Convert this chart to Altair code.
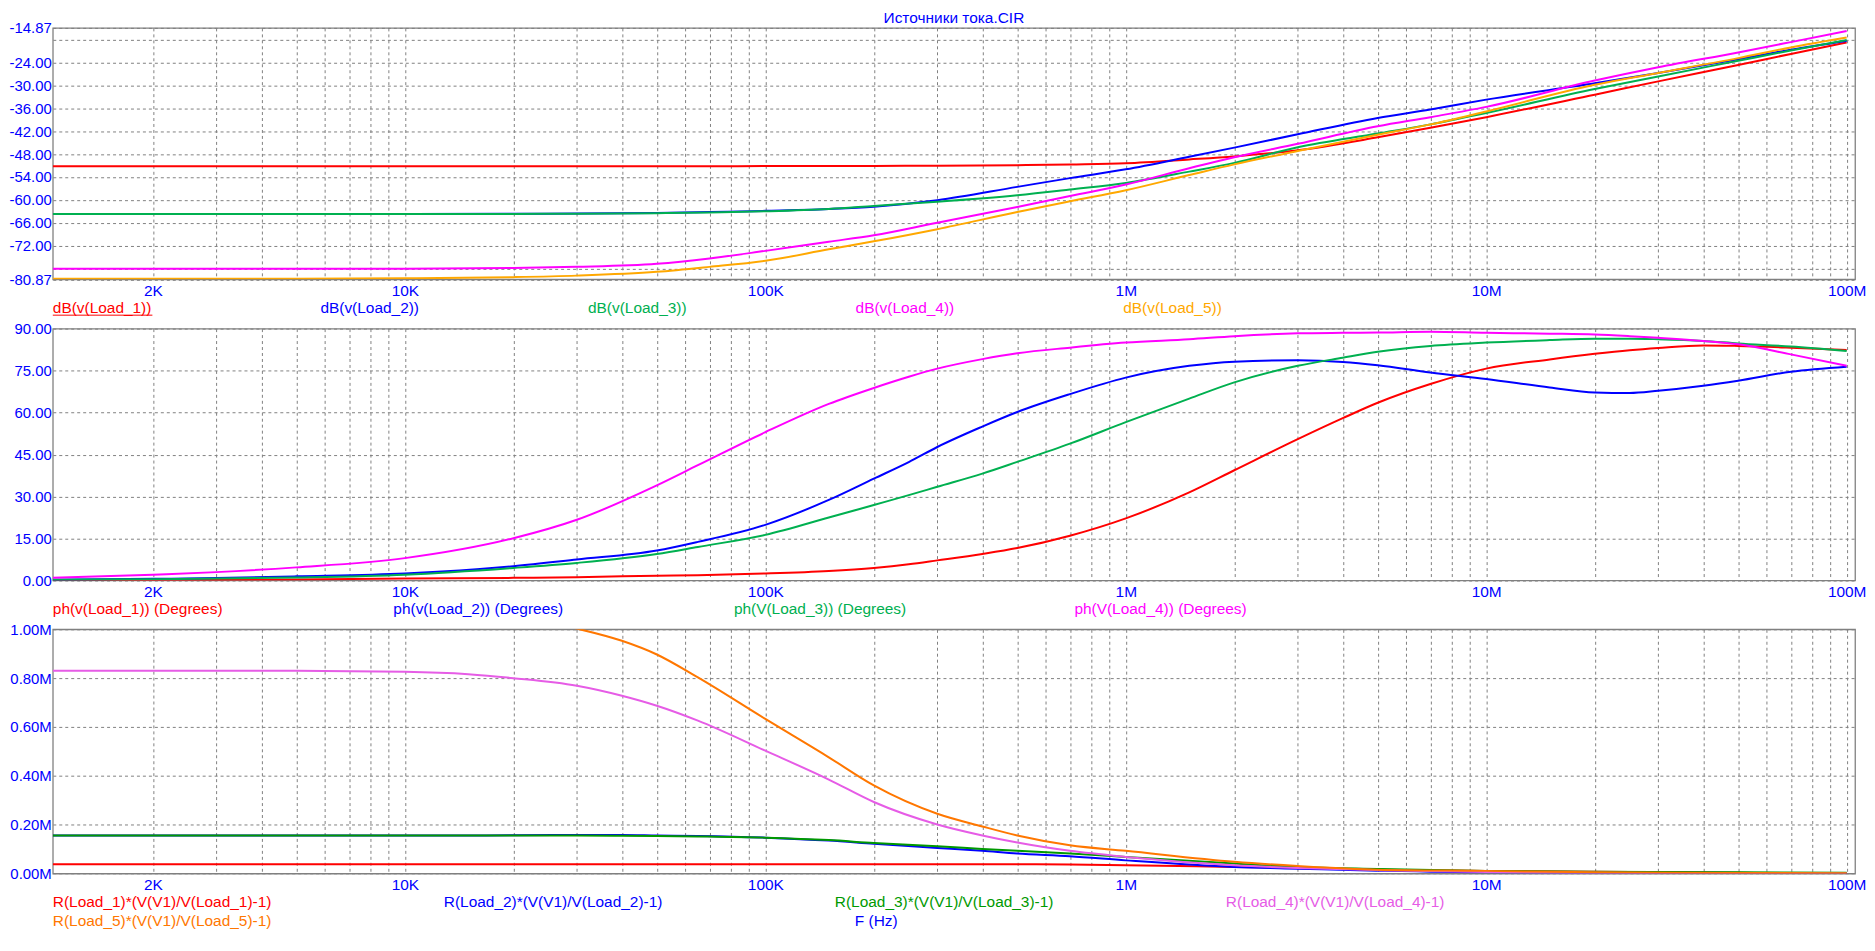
import altair as alt
import pandas as pd

FONT = "Liberation Sans, Arial, sans-serif"
BLUE_TXT = "#0000FF"
FRAME_GRAY = "#808080"

TITLE = "Источники тока.CIR"
X_NAME = "F (Hz)"

# ---------------- x axis (log frequency) ----------------
X_DOMAIN = [1055, 105500000]
X_LABEL_VALUES = [2000, 10000, 100000, 1000000, 10000000, 100000000]
X_LABEL_TEXTS = ["2K", "10K", "100K", "1M", "10M", "100M"]
X_GRID_MANTISSA = [1, 2, 3, 4, 5, 6, 7, 8, 9]
X_GRID_DECADES = [1000, 10000, 100000, 1000000, 10000000, 100000000]

# ---------------- panel 1 : dB ----------------
F1 = [1055, 2000, 5000, 10000, 20000, 30000, 50000, 70000, 100000, 150000, 200000,
      300000, 500000, 700000, 1000000, 1500000, 2000000, 3000000, 5000000, 7000000,
      10000000, 20000000, 30000000, 50000000, 70000000, 100000000]
DB_LOAD1 = [-51.2, -51.2, -51.2, -51.2, -51.2, -51.2, -51.2, -51.2, -51.15, -51.15, -51.1,
            -51.05, -50.9, -50.7, -50.4, -49.4, -48.6, -47.0, -43.6, -41.1,
            -38.3, -32.4, -28.9, -24.6, -21.7, -18.7]
DB_LOAD2 = [-63.7, -63.7, -63.7, -63.7, -63.65, -63.6, -63.45, -63.2, -62.9, -62.4, -61.8,
            -60.1, -56.6, -54.3, -52.0, -48.7, -46.3, -42.8, -38.5, -36.3,
            -33.7, -29.4, -26.7, -23.1, -20.6, -18.3]
DB_LOAD3 = [-63.75, -63.75, -63.75, -63.75, -63.7, -63.65, -63.5, -63.3, -63.0, -62.4, -61.6,
            -60.5, -58.8, -57.3, -55.6, -52.6, -50.3, -46.2, -42.6, -40.2,
            -37.2, -30.9, -27.6, -23.5, -20.8, -18.05]
DB_LOAD4 = [-78.1, -78.1, -78.1, -78.1, -77.9, -77.6, -76.8, -75.4, -73.4, -71.0, -69.3,
            -66.0, -61.9, -59.0, -56.0, -51.7, -48.8, -45.3, -40.7, -38.3,
            -35.6, -28.7, -25.2, -21.3, -18.6, -15.7]
DB_LOAD5 = [-80.7, -80.7, -80.7, -80.6, -80.3, -79.9, -78.9, -77.6, -76.0, -73.0, -70.9,
            -67.7, -63.2, -60.4, -57.5, -53.5, -50.7, -47.2, -42.9, -40.2,
            -36.8, -29.8, -26.7, -22.8, -20.0, -17.4]
P1_NAMES = ["dB(v(Load_1))", "dB(v(Load_2))", "dB(v(Load_3))", "dB(v(Load_4))", "dB(v(Load_5))"]
P1_COLORS = ["#FF0000", "#0000FF", "#00B050", "#FF00FF", "#FFA800"]
DB_DOMAIN = [-80.87, -14.87]
DB_TICKS = [-80.87, -78, -72, -66, -60, -54, -48, -42, -36, -30, -24, -18, -14.87]
DB_UNLABELED = [-78, -18]

# ---------------- panel 2 : phase ----------------
F2 = [1055, 2000, 3000, 5000, 10000, 20000, 30000, 50000, 65000, 100000, 150000, 200000,
      250000, 300000, 400000, 500000, 700000, 1000000, 1500000, 2000000, 3000000, 4000000,
      5000000, 7000000, 10000000, 15000000, 20000000, 25000000, 30000000, 40000000,
      50000000, 70000000, 100000000]
PH_LOAD1 = [0.05, 0.15, 0.2, 0.35, 0.7, 0.95, 1.2, 1.7, 1.9, 2.5, 3.4, 4.5,
            5.8, 7.2, 9.5, 11.6, 16.0, 22.2, 31.5, 39.4, 50.5, 58.0,
            63.5, 70.2, 75.7, 79.0, 81.0, 82.3, 83.1, 84.0,
            83.8, 83.2, 82.4]
PH_LOAD2 = [0.3, 0.6, 0.9, 1.5, 2.5, 5.1, 7.5, 10.7, 13.8, 19.9, 28.8, 36.4,
            42.3, 47.7, 55.0, 60.2, 66.6, 72.5, 76.7, 78.2, 78.7, 78.1,
            76.9, 74.3, 72.0, 69.0, 67.2, 67.0, 67.8, 69.6,
            71.4, 74.6, 76.4]
PH_LOAD3 = [0.3, 0.5, 0.7, 1.1, 2.1, 4.5, 6.3, 9.5, 12.0, 16.3, 22.5, 27.0,
            30.5, 33.5, 38.2, 42.4, 48.9, 56.6, 65.0, 70.8, 76.7, 79.6,
            81.7, 83.8, 85.0, 85.9, 86.4, 86.4, 86.2, 85.6,
            84.7, 83.6, 82.0]
PH_LOAD4 = [0.95, 2.1, 3.0, 4.7, 8.0, 15.1, 21.7, 34.0, 41.2, 53.0, 63.1, 68.8,
            72.8, 75.7, 79.1, 81.2, 83.2, 85.0, 86.2, 87.3, 88.3, 88.5,
            88.6, 88.9, 88.5, 88.2, 87.9, 87.3, 86.7, 85.6,
            84.4, 80.8, 76.7]
P2_NAMES = ["ph(v(Load_1)) (Degrees)", "ph(v(Load_2)) (Degrees)",
            "ph(V(Load_3)) (Degrees)", "ph(V(Load_4)) (Degrees)"]
P2_COLORS = ["#FF0000", "#0000FF", "#00B050", "#FF00FF"]
PH_DOMAIN = [0, 90]
PH_TICKS = [0, 15, 30, 45, 60, 75, 90]

# ---------------- panel 3 : R*(V1/V-1), in M ----------------
F3 = [1055, 2000, 5000, 10000, 15000, 20000, 30000, 40000, 50000, 65000, 100000, 150000,
      200000, 300000, 400000, 500000, 700000, 1000000, 2000000, 3000000, 5000000,
      10000000, 20000000, 50000000, 100000000]
R_LOAD1 = [0.038, 0.038, 0.038, 0.038, 0.038, 0.038, 0.038, 0.038, 0.038, 0.038, 0.038, 0.038,
           0.038, 0.038, 0.038, 0.038, 0.037, 0.034, 0.027, 0.023, 0.016,
           0.011, 0.007, 0.003, 0.001]
R_LOAD2 = [0.156, 0.156, 0.156, 0.156, 0.156, 0.157, 0.158, 0.158, 0.156, 0.154, 0.147, 0.135,
           0.122, 0.105, 0.093, 0.082, 0.071, 0.054, 0.027, 0.020, 0.012,
           0.005, 0.004, 0.002, 0.001]
R_LOAD3 = [0.156, 0.156, 0.156, 0.156, 0.156, 0.156, 0.156, 0.155, 0.154, 0.152, 0.147, 0.137,
           0.125, 0.112, 0.101, 0.093, 0.082, 0.068, 0.041, 0.027, 0.019,
           0.011, 0.007, 0.005, 0.003]
R_LOAD4 = [0.830, 0.830, 0.830, 0.826, 0.816, 0.800, 0.769, 0.728, 0.687, 0.626, 0.503, 0.385,
           0.293, 0.201, 0.156, 0.127, 0.093, 0.068, 0.034, 0.023, 0.014,
           0.006, 0.003, 0.001, 0.0005]
R_LOAD5 = [1.12, 1.11, 1.10, 1.09, 1.075, 1.055, 1.003, 0.953, 0.897, 0.803, 0.633, 0.476,
           0.361, 0.245, 0.193, 0.156, 0.116, 0.093, 0.048, 0.031, 0.016,
           0.011, 0.005, 0.0025, 0.001]
P3_NAMES = ["R(Load_1)*(V(V1)/V(Load_1)-1)", "R(Load_2)*(V(V1)/V(Load_2)-1)",
            "R(Load_3)*(V(V1)/V(Load_3)-1)", "R(Load_4)*(V(V1)/V(Load_4)-1)",
            "R(Load_5)*(V(V1)/V(Load_5)-1)"]
P3_COLORS = ["#FF0000", "#0000FF", "#009900", "#E65CE6", "#FF7700"]
R_DOMAIN = [0, 1.0]
R_TICKS = [0, 0.2, 0.4, 0.6, 0.8, 1.0]

# ---------------- layout ----------------
W = 1810
H1, H2, H3 = 252.5, 253, 245.3
GAP = 49
FS = 15.5
LEG_DY = 34
ROW_DY = 19


def long_df(freqs, names, series):
    rows = []
    for name, vals in zip(names, series):
        for f, v in zip(freqs, vals):
            rows.append({"f": f, "v": v, "s": name})
    return pd.DataFrame(rows)


x_grid = [m * d for d in X_GRID_DECADES for m in X_GRID_MANTISSA
          if X_DOMAIN[0] <= m * d <= X_DOMAIN[1]]
x_label_expr = ""
for val, txt in zip(X_LABEL_VALUES, X_LABEL_TEXTS):
    x_label_expr += f"datum.value == {val} ? '{txt}' : "
x_label_expr += "''"

common_axis = dict(domain=False, ticks=False, grid=True, gridColor=FRAME_GRAY,
                   gridDash=[3, 3], gridWidth=1, gridOpacity=1,
                   labelColor=BLUE_TXT, labelFont=FONT, labelOverlap=False,
                   labelFlush=False, labelBound=False, title=None)

x_enc = alt.X("f:Q", title=None,
              scale=alt.Scale(type="log", domain=X_DOMAIN, nice=False),
              axis=alt.Axis(values=x_grid, labelExpr=x_label_expr, labelFontSize=FS,
                            labelPadding=4, **common_axis))


def y_enc(domain, ticks, expr):
    return alt.Y("v:Q", title=None,
                 scale=alt.Scale(domain=domain, nice=False, zero=False),
                 axis=alt.Axis(values=ticks, labelExpr=expr, labelFontSize=15,
                               labelPadding=1.5, labelAlign="right",
                               labelBaseline="middle", **common_axis))


def text_layer(label, color, x, y, align="left"):
    return alt.Chart(alt.Data(values=[{"t": label}])).mark_text(
        align=align, baseline="alphabetic", font=FONT, fontSize=FS, color=color
    ).encode(x=alt.value(x), y=alt.value(y), text="t:N")


def panel(df, names, colors, height, yenc, legend, extra=None):
    layers = []
    for n, c in zip(names, colors):
        layers.append(
            alt.Chart(df).transform_filter(alt.datum.s == n)
            .mark_line(color=c, strokeWidth=2, interpolate="monotone", clip=True)
            .encode(x=x_enc, y=yenc)
        )
    for (label, color, x, row) in legend:
        layers.append(text_layer(label, color, x, height + LEG_DY + row * ROW_DY))
    if extra:
        layers.extend(extra)
    return alt.layer(*layers).properties(width=W, height=height)


db_expr = ("indexof(" + str(DB_UNLABELED) + ", datum.value) >= 0 ? '' : "
           "(datum.value < 0 ? '-' : '') + format(abs(datum.value), '.2f')")
ph_expr = "format(datum.value, '.2f')"
r_expr = "format(datum.value, '.2f') + 'M'"

df1 = long_df(F1, P1_NAMES, [DB_LOAD1, DB_LOAD2, DB_LOAD3, DB_LOAD4, DB_LOAD5])
df2 = long_df(F2, P2_NAMES, [PH_LOAD1, PH_LOAD2, PH_LOAD3, PH_LOAD4])
df3 = long_df(F3, P3_NAMES, [R_LOAD1, R_LOAD2, R_LOAD3, R_LOAD4, R_LOAD5])

STEP1, STEP2, STEP3 = 268.75, 342, 392.7
leg1 = [(n, c, i * STEP1, 0) for i, (n, c) in enumerate(zip(P1_NAMES, P1_COLORS))]
leg2 = [(n, c, i * STEP2, 0) for i, (n, c) in enumerate(zip(P2_NAMES, P2_COLORS))]
leg3 = [(n, c, (i % 4) * STEP3, i // 4) for i, (n, c) in enumerate(zip(P3_NAMES, P3_COLORS))]

underline = alt.Chart(alt.Data(values=[{}])).mark_rule(color=P1_COLORS[0], strokeWidth=1).encode(
    x=alt.value(0), x2=alt.value(100), y=alt.value(H1 + LEG_DY + 2), y2=alt.value(H1 + LEG_DY + 2))

title_txt = text_layer(TITLE, BLUE_TXT, W / 2, -4.5, align="center")

fhz = text_layer(X_NAME, BLUE_TXT, 827, H3 + LEG_DY + ROW_DY, align="center")

p1 = panel(df1, P1_NAMES, P1_COLORS, H1, y_enc(DB_DOMAIN, DB_TICKS, db_expr), leg1,
           [underline, title_txt])
p2 = panel(df2, P2_NAMES, P2_COLORS, H2, y_enc(PH_DOMAIN, PH_TICKS, ph_expr), leg2)
p3 = panel(df3, P3_NAMES, P3_COLORS, H3, y_enc(R_DOMAIN, R_TICKS, r_expr), leg3, [fhz])

chart = alt.vconcat(p1, p2, p3, spacing=GAP, bounds="flush").properties(
    padding=0,
    background="white",
).configure_view(stroke=FRAME_GRAY, strokeWidth=1.3)

chart.save("out.html", embed_options={"renderer": "svg", "actions": False})
